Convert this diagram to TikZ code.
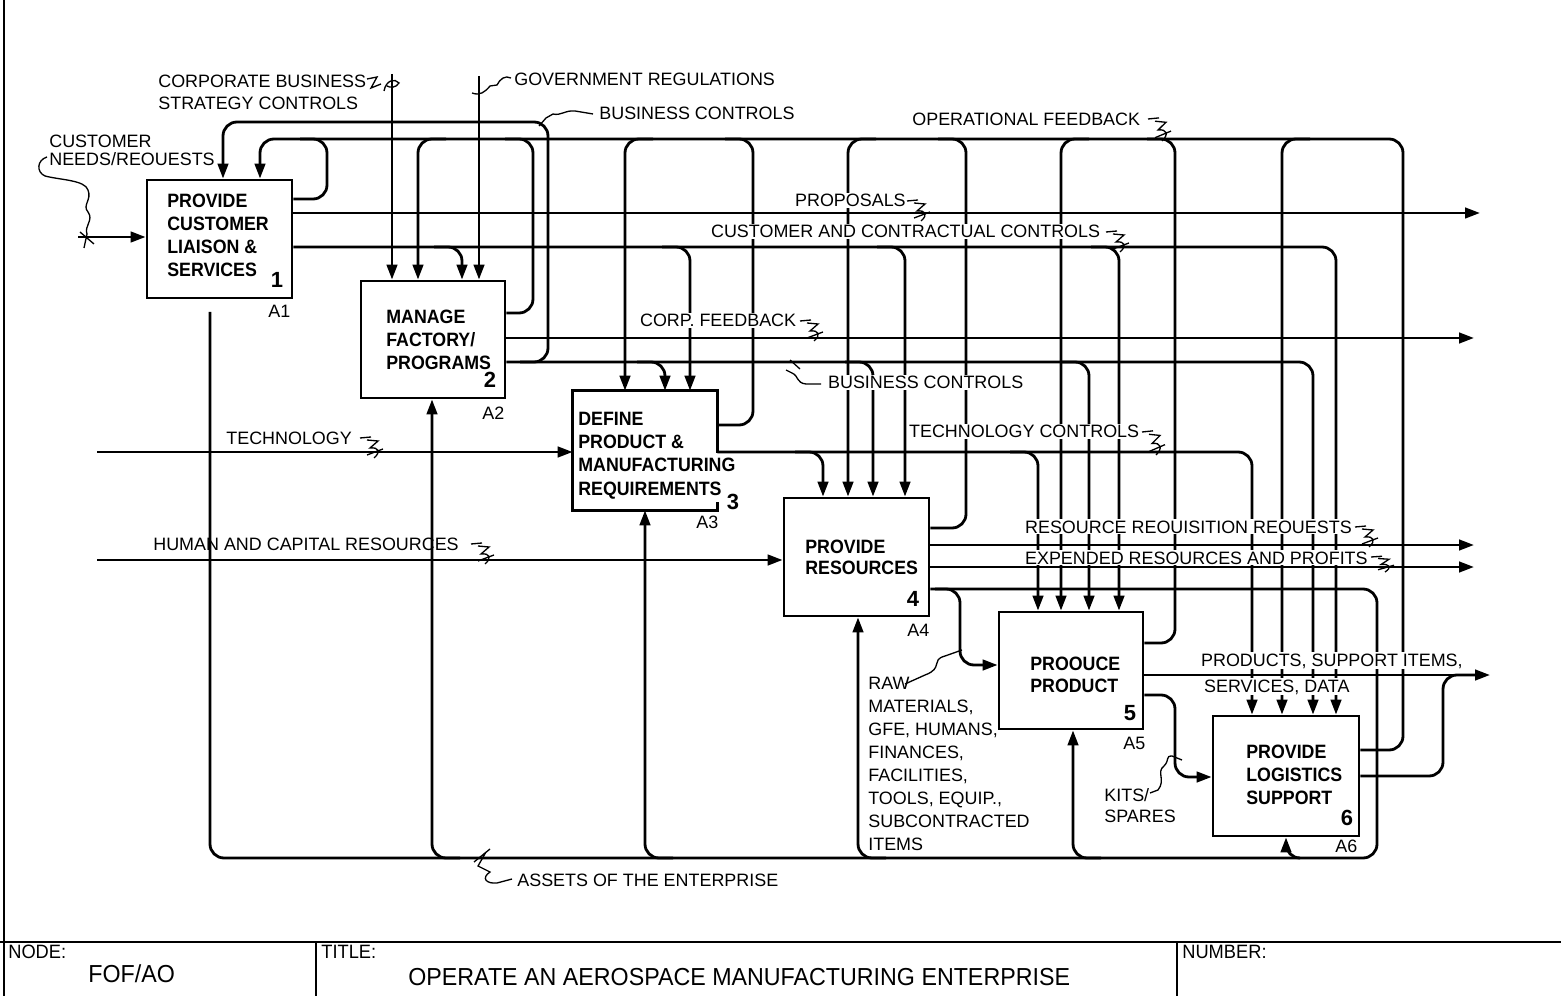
\documentclass[tikz,border=0pt]{standalone}
\usepackage{fontspec}
\setmainfont{Liberation Sans}
\newfontfamily\boxfont{Liberation Sans}[FakeStretch=0.92]
\newfontfamily\titlefont{Liberation Sans}[FakeStretch=0.945]
\usetikzlibrary{arrows.meta}
\tikzset{
  ln/.style={line width=1.6pt, rounded corners=0.28cm},
  arr/.style={-{Triangle[length=0.3cm,width=0.21cm]}},
  box/.style={draw, line width=1.6pt, inner sep=0pt},
  lab/.style={font=\fontsize{10.2}{12}\selectfont, inner sep=0pt, anchor=base west},
  labw/.style={lab, fill=white, inner xsep=1pt, inner ysep=0.6pt},
  btx/.style={font=\boxfont\bfseries\fontsize{11}{13}\selectfont, inner sep=0pt, anchor=base west},
  num/.style={font=\bfseries\fontsize{12.5}{14}\selectfont, inner sep=0pt, anchor=base},
  squig/.style={line width=0.75pt},
  frame/.style={line width=1.4pt},
  tb/.style={font=\titlefont\fontsize{11}{13}\selectfont, inner sep=0pt, anchor=base west},
  tbig/.style={font=\titlefont\fontsize{14}{16}\selectfont, inner sep=0pt, anchor=base west},
  zee/.pic={\draw[squig] (0,0) -- (11,-1) (7,2) -- (18,3) -- (10,10) .. controls (19,9) and (21,14) .. (14,20) (7,17) -- (23,11);}
}
\begin{document}
\begin{tikzpicture}[x=0.02cm,y=-0.02cm]
\useasboundingbox (0,0) rectangle (1561,996);

% ---------- boxes ----------
\node[box, minimum width=2.90cm, minimum height=2.36cm] (A1) at (219.5,239) {};
\node[box, minimum width=2.88cm, minimum height=2.34cm] (A2) at (433,339.5) {};
\node[inner sep=0pt, minimum width=2.88cm, minimum height=2.38cm] (A3) at (645,450.5) {};
\node[box, minimum width=2.90cm, minimum height=2.36cm] (A4) at (856.5,557) {};
\node[box, minimum width=2.88cm, minimum height=2.34cm] (A5) at (1071,670.5) {};
\node[box, minimum width=2.92cm, minimum height=2.40cm] (A6) at (1286,776) {};
\draw[line width=1.6pt] (A3.east |- 0,453) -- (A3.north east) -- (A3.north west) -- (A3.south west) -- (A3.south east) -- (A3.east |- 0,502);

% ---------- frame ----------
\draw[frame] (4,0) -- (4,996);
\draw[frame] (0,942) -- (1561,942);
\draw[frame] (316,942) -- (316,996);
\draw[frame] (1177,942) -- (1177,996);

% ---------- inputs ----------
\coordinate (cnS) at (78,237);
\draw[ln,arr] (cnS) -- (A1.west |- cnS);
\coordinate (techS) at (97,452);
\draw[ln,arr] (techS) -- (A3.west |- techS);
\coordinate (humS) at (97,560);
\draw[ln,arr] (humS) -- (A4.west |- humS);
\coordinate (cbS) at (392,74);
\draw[ln,arr] (cbS) -- (cbS |- A2.north);
\coordinate (grS) at (479,76);
\draw[ln,arr] (grS) -- (grS |- A2.north);

% ---------- straight outputs ----------
\coordinate (propE) at (1480,213);
\draw[ln,arr] (A1.east |- propE) -- (propE);
\coordinate (cfE) at (1474,338);
\draw[ln,arr] (A2.east |- cfE) -- (cfE);
\coordinate (rrE) at (1474,545);
\draw[ln,arr] (A4.east |- rrE) -- (rrE);
\coordinate (erE) at (1474,567);
\draw[ln,arr] (A4.east |- erE) -- (erE);
\coordinate (prE) at (1490,675);
\draw[ln,arr] (A5.east |- prE) -- (prE);
\draw[ln] (A6.east |- 0,776) -- (1443,776) -- (1443,675) -- (1475,675);

% ---------- operational feedback ----------
\draw[ln,arr] (A6.east |- 0,750) -- (1403,750) -- (1403,139) -- (260,139) -- (260,0 |- A1.north);
\draw[ln] (A1.east |- 0,199) -- (327,199) -- (327,139) -- (300,139);
\draw[ln] (A2.east |- 0,313) -- (533,313) -- (533,139) -- (505,139);
\draw[ln] (A3.east |- 0,425) -- (753,425) -- (753,139) -- (725,139);
\draw[ln] (A4.east |- 0,528) -- (966,528) -- (966,139) -- (938,139);
\draw[ln] (A5.east |- 0,643) -- (1175,643) -- (1175,139) -- (1147,139);
\draw[ln,arr] (446,139) -- (418,139) -- (418,0 |- A2.north);
\draw[ln,arr] (653,139) -- (625,139) -- (625,0 |- A3.north);
\draw[ln,arr] (876,139) -- (848,139) -- (848,0 |- A4.north);
\draw[ln,arr] (1089,139) -- (1061,139) -- (1061,0 |- A5.north);
\draw[ln,arr] (1310,139) -- (1282,139) -- (1282,0 |- A6.north);

% ---------- business controls ----------
\draw[ln,arr] (A2.east |- 0,362) -- (1313,362) -- (1313,0 |- A6.north);
\draw[ln,arr] (520,362) -- (548,362) -- (548,122) -- (223,122) -- (223,0 |- A1.north);
\draw[ln,arr] (637,362) -- (665,362) -- (665,0 |- A3.north);
\draw[ln,arr] (845,362) -- (873,362) -- (873,0 |- A4.north);
\draw[ln,arr] (1061,362) -- (1089,362) -- (1089,0 |- A5.north);

% ---------- customer and contractual controls ----------
\draw[ln,arr] (A1.east |- 0,247) -- (1336,247) -- (1336,0 |- A6.north);
\draw[ln,arr] (434,247) -- (462,247) -- (462,0 |- A2.north);
\draw[ln,arr] (662,247) -- (690,247) -- (690,0 |- A3.north);
\draw[ln,arr] (877,247) -- (905,247) -- (905,0 |- A4.north);
\draw[ln,arr] (1091,247) -- (1119,247) -- (1119,0 |- A5.north);

% ---------- technology controls ----------
\draw[ln,arr] (A3.east |- 0,452) -- (1252,452) -- (1252,0 |- A6.north);
\draw[ln,arr] (795,452) -- (823,452) -- (823,0 |- A4.north);
\draw[ln,arr] (1010,452) -- (1038,452) -- (1038,0 |- A5.north);

% ---------- raw materials ----------
\draw[ln,arr] (A4.east |- 0,589) -- (1377,589) -- (1377,858) -- (1286,858) -- (1286,0 |- A6.south);
\draw[ln,arr] (935,589) -- (960,589) -- (960,665) -- (A5.west |- 0,665);

% ---------- kits / spares ----------
\draw[ln,arr] (A5.east |- 0,695) -- (1175,695) -- (1175,777) -- (A6.west |- 0,777);

% ---------- assets ----------
\coordinate (asS) at (210,312);
\draw[ln] (asS) -- (210,858) -- (1300,858);
\draw[ln,arr] (460,858) -- (432,858) -- (432,0 |- A2.south);
\draw[ln,arr] (673,858) -- (645,858) -- (645,0 |- A3.south);
\draw[ln,arr] (886,858) -- (858,858) -- (858,0 |- A4.south);
\draw[ln,arr] (1101,858) -- (1073,858) -- (1073,0 |- A5.south);

% ---------- box texts ----------
\node[btx] (a1a) at (167,208) {PROVIDE};
\node[btx] (a1b) at (167,231) {CUSTOMER};
\node[btx] (a1c) at (167,254) {LIAISON \&};
\node[btx] (a1d) at (167,277) {SERVICES};
\node[num] (n1) at (277,288) {1};
\node[lab] (i1) at (268,318) {A1};

\node[btx] (a2a) at (386,324) {MANAGE};
\node[btx] (a2b) at (386,347) {FACTORY/};
\node[btx] (a2c) at (386,370) {PROGRAMS};
\node[num] (n2) at (490,388) {2};
\node[lab] (i2) at (482,419) {A2};

\node[btx] (a3a) at (578,426) {DEFINE};
\node[btx] (a3b) at (578,449) {PRODUCT \&};
\node[btx] (a3c) at (578,472) {MANUFACTURING};
\node[btx] (a3d) at (578,495) {REQUIREMENTS};
\node[num] (n3) at (733,509) {3};
\node[lab] (i3) at (696,528) {A3};

\node[btx] (a4a) at (805,553) {PROVIDE};
\node[btx] (a4b) at (805,574) {RESOURCES};
\node[num] (n4) at (913,606) {4};
\node[lab] (i4) at (907,636) {A4};

\node[btx] (a5a) at (1030,670) {PROOUCE};
\node[btx] (a5b) at (1030,692) {PRODUCT};
\node[num] (n5) at (1130,720) {5};
\node[lab] (i5) at (1123,749) {A5};

\node[btx] (a6a) at (1246,758) {PROVIDE};
\node[btx] (a6b) at (1246,781) {LOGISTICS};
\node[btx] (a6c) at (1246,804) {SUPPORT};
\node[num] (n6) at (1347,825) {6};
\node[lab] (i6) at (1335,852) {A6};

% ---------- labels ----------
\node[lab] (lcb1) at (158,88) {CORPORATE BUSINESS};
\node[lab] (lcb2) at (158,110) {STRATEGY CONTROLS};
\node[lab] (lgr) at (514,86) {GOVERNMENT REGULATIONS};
\node[lab] (lbc1) at (599,120) {BUSINESS CONTROLS};
\node[lab] (lcn1) at (49,148) {CUSTOMER};
\node[lab] (lcn2) at (49,166) {NEEDS/REOUESTS};
\node[lab] (lof) at (912,126) {OPERATIONAL FEEDBACK};
\node[labw] (lpr) at (793,207) {PROPOSALS};
\node[labw] (lcc) at (709,238) {CUSTOMER AND CONTRACTUAL CONTROLS};
\node[labw] (lcf) at (638,327) {CORP. FEEDBACK};
\node[labw] (lbc2) at (826,389) {BUSINESS CONTROLS};
\node[labw] (ltc) at (907,438) {TECHNOLOGY CONTROLS};
\node[lab] (lte) at (226,444) {TECHNOLOGY};
\node[lab] (lhc) at (153,550) {HUMAN AND CAPITAL RESOURCES};
\node[labw] (lrr) at (1023,533) {RESOURCE REOUISITION REOUESTS};
\node[labw] (ler) at (1023,564) {EXPENDED RESOURCES AND PROFITS};
\node[labw] (lp1) at (1199,666) {PRODUCTS, SUPPORT ITEMS,};
\node[labw] (lp2) at (1202,692) {SERVICES, DATA};
\node[lab] (lr1) at (868,689) {RAW};
\node[lab] (lr2) at (868,712) {MATERIALS,};
\node[lab] (lr3) at (868,735) {GFE, HUMANS,};
\node[lab] (lr4) at (868,758) {FINANCES,};
\node[lab] (lr5) at (868,781) {FACILITIES,};
\node[lab] (lr6) at (868,804) {TOOLS, EQUIP.,};
\node[lab] (lr7) at (868,827) {SUBCONTRACTED};
\node[lab] (lr8) at (868,850) {ITEMS};
\node[lab] (lk1) at (1104,801) {KITS/};
\node[lab] (lk2) at (1104,822) {SPARES};
\node[lab] (las) at (517,886) {ASSETS OF THE ENTERPRISE};

% ---------- squiggle leaders ----------
\pic at (907,201) {zee};
\pic at (1106,232) {zee};
\pic at (800,321) {zee};
\pic[yscale=1.15] at (1142,432) {zee};
\pic at (360,438) {zee};
\pic at (471,544) {zee};
\pic at (1355,527) {zee};
\pic[yscale=0.75] at (1371,557) {zee};
\pic[yscale=1.1] at (1148,119) {zee};
\draw[squig] (47,157) .. controls (37,160) and (36,172) .. (45,176) .. controls (60,180) and (85,180) .. (88,190) .. controls (92,200) and (82,205) .. (88,212) .. controls (94,220) and (84,226) .. (87,234) -- (84,248) (80,232) -- (94,244);
\draw[squig] (367,79) -- (377,77) -- (371,88) -- (381,84) (384,91) .. controls (386,80) and (395,78) .. (399,83) .. controls (396,88) and (390,88) .. (387,86);
\draw[squig] (511,78) .. controls (505,75) and (500,79) .. (497,85) -- (490,86) .. controls (485,92) and (480,96) .. (472,93);
\draw[squig] (593,114) -- (575,111) .. controls (565,110) and (561,116) .. (553,114) -- (546,118) -- (539,126);
\draw[squig] (821,384) -- (806,384) .. controls (796,383) and (799,376) .. (792,373) -- (786,370) (790,360) -- (800,369);
\draw[squig] (905,684) -- (925,675) .. controls (944,668) and (930,660) .. (945,656) -- (962,650);
\draw[squig] (1150,793) -- (1158,790) .. controls (1166,780) and (1156,772) .. (1164,766) .. controls (1170,760) and (1165,756) .. (1172,756) -- (1182,760);
\draw[squig] (512,879) -- (497,883) .. controls (486,884) and (481,878) .. (490,872) -- (478,866) -- (486,852) (474,862) -- (490,849);

% ---------- title block ----------
\node[tb] (tnode) at (8,958) {NODE:};
\node[tbig] (tnodev) at (88,982) {FOF/AO};
\node[tb] (ttitle) at (321,958) {TITLE:};
\node[tbig] (ttitlev) at (408,985) {OPERATE AN AEROSPACE MANUFACTURING ENTERPRISE};
\node[tb] (tnum) at (1182,958) {NUMBER:};
\end{tikzpicture}
\end{document}
